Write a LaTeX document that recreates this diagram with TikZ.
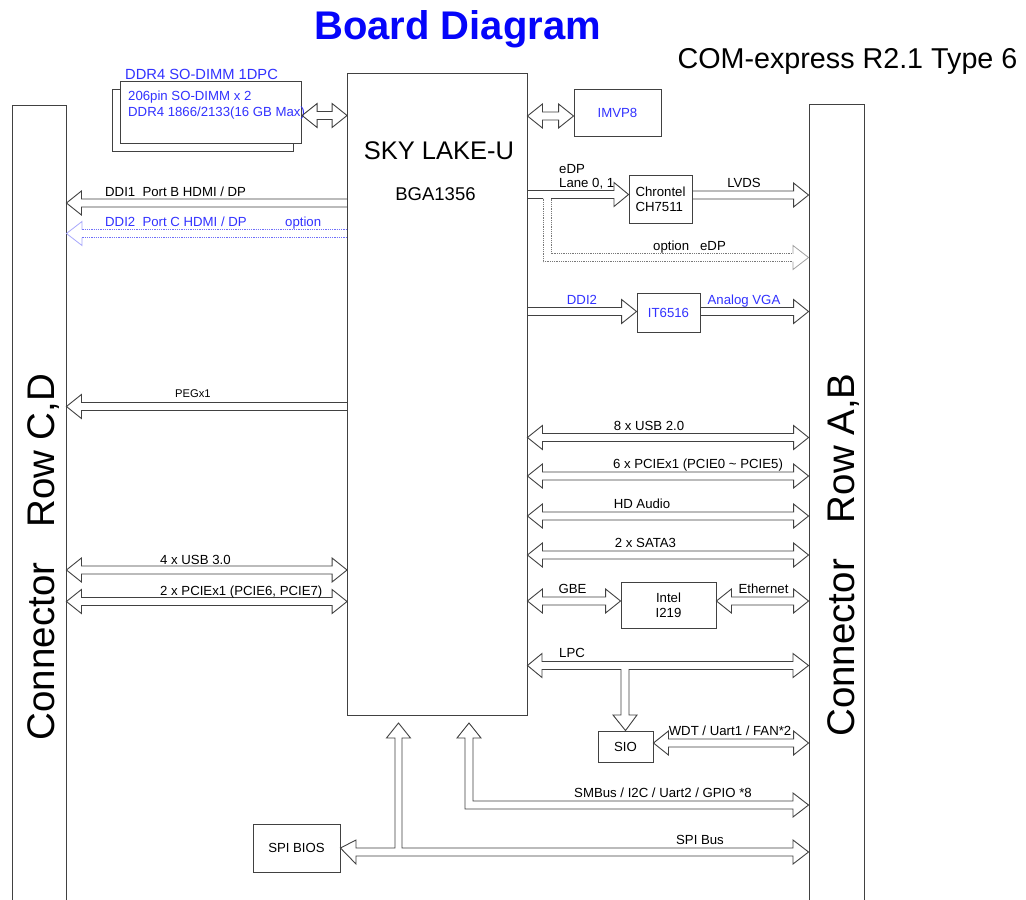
\documentclass[tikz,border=0pt]{standalone}
\usepackage{fontspec}
\setmainfont{Liberation Sans}
\usetikzlibrary{calc}
\definecolor{lc}{RGB}{65,65,65}
\definecolor{tb}{RGB}{50,50,255}
\definecolor{tt}{RGB}{5,5,250}
\definecolor{dotc}{RGB}{120,120,120}
\definecolor{dotb}{RGB}{110,110,250}
\newcommand\lblfont{\fontsize{13.2}{15}\selectfont}
\tikzset{
  hol/.style={draw=lc, line width=0.9pt, line join=miter},
  box/.style={draw=lc, line width=0.9pt, fill=white, inner sep=0pt, align=center, font=\lblfont},
  lab/.style={inner sep=0pt, font=\lblfont, text height=9.4pt, text depth=0pt},
  conn/.style={draw=lc, line width=0.9pt, inner sep=0pt},
  contxt/.style={inner sep=0pt, rotate=90, font=\fontsize{38.5}{40}\selectfont, text height=27.6pt, text depth=0pt},
}
% right-pointing hollow arrow: tail #2, tip #3, centre y #4 (pixels)
\newcommand\arrR[4][]{\draw[hol,#1] let \p1=#2,\p2=#3 in
  (\x1,-#4pt+4pt) -- (\x2-15pt,-#4pt+4pt) -- (\x2-15pt,-#4pt+12pt) -- (\x2,-#4pt)
  -- (\x2-15pt,-#4pt-12pt) -- (\x2-15pt,-#4pt-4pt) -- (\x1,-#4pt-4pt);}
% left-pointing hollow arrow: tip #2, tail #3
\newcommand\arrL[4][]{\draw[hol,#1] let \p1=#2,\p2=#3 in
  (\x2,-#4pt+4pt) -- (\x1+15pt,-#4pt+4pt) -- (\x1+15pt,-#4pt+12pt) -- (\x1,-#4pt)
  -- (\x1+15pt,-#4pt-12pt) -- (\x1+15pt,-#4pt-4pt) -- (\x2,-#4pt-4pt);}
% double hollow arrow between #2 (left) and #3 (right)
\newcommand\arrD[4][]{\draw[hol,#1] let \p1=#2,\p2=#3 in
  (\x1+15pt,-#4pt+4pt) -- (\x2-15pt,-#4pt+4pt) -- (\x2-15pt,-#4pt+12pt) -- (\x2,-#4pt)
  -- (\x2-15pt,-#4pt-12pt) -- (\x2-15pt,-#4pt-4pt) -- (\x1+15pt,-#4pt-4pt)
  -- (\x1+15pt,-#4pt-12pt) -- (\x1,-#4pt) -- (\x1+15pt,-#4pt+12pt) -- cycle;}
\begin{document}
\begin{tikzpicture}[x=1pt,y=-1pt]
\useasboundingbox[fill=white] (0,0) rectangle (1026,900);

% titles
\node[anchor=base, inner sep=0pt, text=tt, font=\fontsize{40}{42}\selectfont\bfseries] (title) at (457.5,39) {Board Diagram};
\node[anchor=base, inner sep=0pt, font=\fontsize{28.7}{30}\selectfont] (sub) at (847.5,68) {COM-express R2.1 Type 6};

% connectors
\node[conn, minimum width=54pt, minimum height=797pt] (conL) at (39,503.5) {};
\node[conn, minimum width=55pt, minimum height=798pt] (conR) at (836.5,503) {};
\node[contxt] (conLt) at (41,557) {Connector\hspace{35pt}Row C,D};
\node[contxt] (conRt) at (841,555) {Connector\hspace{36pt}Row A,B};

% CPU
\node[box, minimum width=179.5pt, minimum height=642pt] (sky) at (437.25,394) {};
\node[anchor=base, inner sep=0pt, font=\fontsize{25.5}{27}\selectfont] (skyt) at (439,159.3) {SKY LAKE-U};
\node[anchor=base, inner sep=0pt, font=\fontsize{18.5}{20}\selectfont] (bga) at (435.5,200) {BGA1356};

% DIMMs
\node[box, minimum width=180.6pt, minimum height=62.4pt] (dimmB) at (203,120.5) {};
\node[box, minimum width=181pt, minimum height=61.6pt] (dimmF) at (211.2,112.5) {};
\node[lab, anchor=west, text=tb, font=\fontsize{14.7}{16}\selectfont, text height=10.5pt] (ddrt) at (125,74.3) {DDR4 SO-DIMM 1DPC};
\node[lab, anchor=west, text=tb] (ddr1) at (128,95.5) {206pin SO-DIMM x 2};
\node[lab, anchor=west, text=tb] (ddr2) at (128,111.5) {DDR4 1866/2133(16 GB Max)};

% other boxes
\node[box, minimum width=87pt, minimum height=47pt, text=tb] (imvp) at (617.5,112.5) {IMVP8};
\node[box, minimum width=63pt, minimum height=48pt, align=left] (chr) at (660.5,199) {Chrontel\\CH7511};
\node[box, minimum width=63pt, minimum height=39pt, text=tb] (it) at (668.5,312.5) {IT6516};
\node[box, minimum width=95pt, minimum height=46pt] (intel) at (668.5,605) {Intel\\I219};
\node[box, minimum width=55pt, minimum height=31pt] (sio) at (625.5,746.5) {SIO};
\node[box, minimum width=87pt, minimum height=48pt] (bios) at (296.5,848) {SPI BIOS};

% arrows
\arrD{(dimmF.east)}{(sky.west)}{115.5}
\arrD{(sky.east)}{(imvp.west)}{116}
\arrL{(conL.east)}{(sky.west)}{203}
% DDI2 option (dotted, blue)
\draw[dotb, line width=0.8pt, densely dotted] (sky.west |- 0,229.5) -- (82,229.5) (sky.west |- 0,237.5) -- (82,237.5);
\draw[dotb!60, line width=0.8pt] (82,229.5) -- (82,221.5) -- (conL.east |- 0,233.5) -- (82,245.5) -- (82,237.5);
\arrL{(conL.east)}{(sky.west)}{406.5}
\arrD{(conL.east)}{(sky.west)}{570}
\arrD{(conL.east)}{(sky.west)}{601.5}

% eDP to Chrontel
\draw[hol] (sky.east |- 0,190.5) -- (614,190.5) -- (614,182.5) -- (chr.west |- 0,194.5) -- (614,206.5) -- (614,198.5) -- (551,198.5)
  (543,198.5) -- (sky.east |- 0,198.5);
\draw[dotc, line width=0.8pt, densely dotted] (543,198.5) -- (543,261.5) -- (793,261.5)
  (551,198.5) -- (551,253.5) -- (793,253.5);
\draw[dotc!70, line width=0.8pt] (793,253.5) -- (793,245.5) -- (conR.west |- 0,257.5) -- (793,269.5) -- (793,261.5);
\arrR{(chr.east)}{(conR.west)}{195}
\arrR{(sky.east)}{(it.west)}{311.5}
\arrR{(it.east)}{(conR.west)}{311.5}

\arrD{(sky.east)}{(conR.west)}{437.5}
\arrD{(sky.east)}{(conR.west)}{476}
\arrD{(sky.east)}{(conR.west)}{516}
\arrD{(sky.east)}{(conR.west)}{555}
\arrD{(sky.east)}{(intel.west)}{601}
\arrD{(intel.east)}{(conR.west)}{601}

% LPC with branch to SIO
\draw[hol] (542,669.5) -- (621,669.5) -- (621,715) -- (613,715) -- (sio.north) -- (637,715) -- (629,715) -- (629,669.5)
  -- (793,669.5) -- (793,677.5) -- (conR.west |- 0,665.5) -- (793,653.5) -- (793,661.5) -- (542,661.5)
  -- (542,653.5) -- (sky.east |- 0,665.5) -- (542,677.5) -- cycle;
\arrD{(sio.east)}{(conR.west)}{743}

% SMBus
\draw[hol] (473,738) -- (481,738) -- (469,723) -- (457,738) -- (465,738) -- (465,809) -- (793,809)
  -- (793,817) -- (conR.west |- 0,805) -- (793,793) -- (793,801) -- (473,801) -- cycle;
% SPI
\draw[hol] (356,848) -- (395,848) -- (395,738) -- (386.5,738) -- (398.5,723) -- (410.5,738) -- (402,738) -- (402,848)
  -- (793,848) -- (793,840) -- (conR.west |- 0,852) -- (793,864) -- (793,856) -- (356,856) -- (356,864)
  -- (bios.east) -- (356,840) -- cycle;

% labels
\node[lab, anchor=west] (l1) at (105,192) {DDI1\ \ Port B HDMI / DP};
\node[lab, anchor=west, text=tb] (l2) at (105,222) {DDI2\ \ Port C HDMI / DP};
\node[lab, anchor=west, text=tb] (l3) at (285,222) {option};
\node[lab, anchor=west, font=\fontsize{11.2}{13}\selectfont, text height=8pt] (l4) at (175,393.5) {PEGx1};
\node[lab, anchor=west] (l5) at (160,559.5) {4 x USB 3.0};
\node[lab, anchor=west] (l6) at (160,590.5) {2 x PCIEx1 (PCIE6, PCIE7)};
\node[lab, anchor=west] (l7) at (559,168.5) {eDP};
\node[lab, anchor=west] (l8) at (559,183) {Lane 0, 1};
\node[lab] (l9) at (744,183) {LVDS};
\node[lab, anchor=west] (l10) at (653,246) {option\ \ \ eDP};
\node[lab, text=tb] (l11) at (582,300) {DDI2};
\node[lab, text=tb] (l12) at (744,299.5) {Analog VGA};
\node[lab] (l13) at (649,426) {8 x USB 2.0};
\node[lab] (l14) at (698,464) {6 x PCIEx1 (PCIE0 \textasciitilde\ PCIE5)};
\node[lab] (l15) at (642,504) {HD Audio};
\node[lab] (l16) at (645.5,543) {2 x SATA3};
\node[lab] (l17) at (572.5,589) {GBE};
\node[lab] (l18) at (763.5,589) {Ethernet};
\node[lab] (l19) at (572,653) {LPC};
\node[lab] (l20) at (730,731) {WDT / Uart1 / FAN*2};
\node[lab] (l21) at (663,793) {SMBus / I2C / Uart2 / GPIO *8};
\node[lab] (l22) at (700,840) {SPI Bus};
\end{tikzpicture}
\end{document}
